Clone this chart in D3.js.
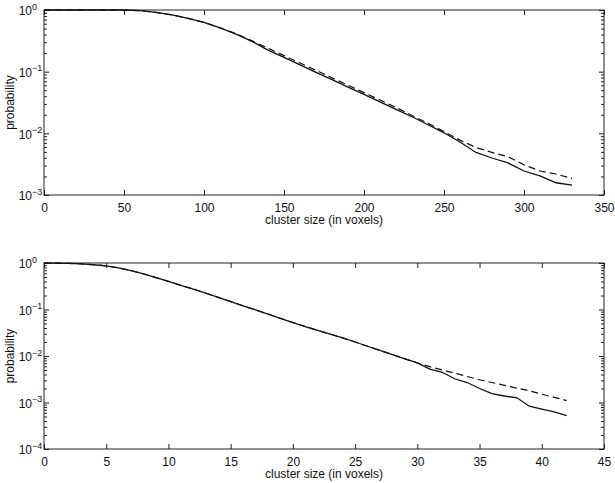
<!DOCTYPE html>
<html>
<head>
<meta charset="utf-8">
<script src="https://cdn.jsdelivr.net/npm/d3@7"></script>
<style>
  body { margin: 0; background: #fff; }
  svg { font-family: "Liberation Sans", Arial, Helvetica, sans-serif; }
  .tick line { stroke: #222; }
  .domain { display: none; }
</style>
</head>
<body>
<div class="chart"></div>
<script>
// top panel: cluster size 0..330 in steps of 10
const topSizes = d3.range(0, 331, 10);
const topSolid = [1, 1, 1, 1, 1, 1, 0.977, 0.912, 0.832, 0.733, 0.631, 0.513,
  0.407, 0.309, 0.224, 0.170, 0.129, 0.0977, 0.0741, 0.0562, 0.0427, 0.0324,
  0.0245, 0.0186, 0.0138, 0.0102, 0.00724, 0.00490, 0.00398, 0.00331, 0.00245,
  0.00204, 0.00158, 0.00145];
const topDashed = [1, 1, 1, 1, 1, 1, 0.977, 0.912, 0.832, 0.733, 0.631, 0.513,
  0.415, 0.316, 0.240, 0.182, 0.138, 0.105, 0.0794, 0.0603, 0.0457, 0.0347,
  0.0263, 0.0195, 0.0145, 0.0107, 0.00776, 0.00589, 0.00490, 0.00417, 0.00309,
  0.00245, 0.00219, 0.00186];
const topXTicks = [0, 50, 100, 150, 200, 250, 300, 350];
const topYExps = [0, -1, -2, -3];

// bottom panel: cluster size 0..42
const botSizes = d3.range(0, 43);
const botSolid = [1, 0.993, 0.977, 0.955, 0.918, 0.867, 0.785, 0.684, 0.582,
  0.484, 0.403, 0.331, 0.275, 0.224, 0.182, 0.148, 0.120, 0.0977, 0.0794,
  0.0646, 0.0525, 0.0427, 0.0355, 0.0295, 0.0245, 0.0200, 0.0162, 0.0132,
  0.0107, 0.00871, 0.00708, 0.00525, 0.00447, 0.00324, 0.00269, 0.00200,
  0.00155, 0.00138, 0.00126, 0.000832, 0.000724, 0.000631, 0.000525];
const botDashed = [1, 0.993, 0.977, 0.955, 0.918, 0.867, 0.785, 0.684, 0.582,
  0.484, 0.403, 0.331, 0.275, 0.224, 0.182, 0.148, 0.120, 0.0977, 0.0794,
  0.0646, 0.0525, 0.0427, 0.0355, 0.0295, 0.0245, 0.0200, 0.0162, 0.0132,
  0.0107, 0.00871, 0.00708, 0.00589, 0.00501, 0.00427, 0.00363, 0.00309,
  0.00269, 0.00234, 0.00204, 0.00178, 0.00151, 0.00129, 0.00110];
const botXTicks = [0, 5, 10, 15, 20, 25, 30, 35, 40, 45];
const botYExps = [0, -1, -2, -3, -4];

const xLabel = 'cluster size (in voxels)';
const yLabel = 'probability';

const svg = d3.select('.chart')
  .append('svg')
  .attr('width', 615)
  .attr('height', 483);

drawPanel({
  top: 10, bottom: 195, left: 44, right: 604,
  sizes: topSizes, solid: topSolid, dashed: topDashed,
  xTicks: topXTicks, yExps: topYExps
});
drawPanel({
  top: 263, bottom: 449, left: 44, right: 604,
  sizes: botSizes, solid: botSolid, dashed: botDashed,
  xTicks: botXTicks, yExps: botYExps
});

function drawPanel(p) {
  const g = svg.append('g');
  const xScale = d3.scaleLinear()
    .domain([p.xTicks[0], p.xTicks[p.xTicks.length - 1]])
    .range([p.left, p.right]);
  const yMin = Math.pow(10, d3.min(p.yExps));
  const yScale = d3.scaleLog()
    .domain([yMin, 1])
    .range([p.bottom, p.top]);

  const majors = p.yExps.map(e => Math.pow(10, e));
  const minors = [];
  p.yExps.slice(0, -1).forEach(e => {
    for (let k = 2; k <= 9; k++) minors.push(k * Math.pow(10, e - 1));
  });

  // x axes, ticks pointing inward
  g.append('g')
    .attr('transform', `translate(0,${p.bottom})`)
    .call(d3.axisBottom(xScale).tickValues(p.xTicks).tickSizeInner(-5).tickSizeOuter(0).tickPadding(8))
    .call(a => a.selectAll('text').attr('font-size', 12).attr('fill', '#111'));
  g.append('g')
    .attr('transform', `translate(0,${p.top})`)
    .call(d3.axisTop(xScale).tickValues(p.xTicks).tickSizeInner(-5).tickSizeOuter(0).tickFormat(''));

  // y axes, majors and minors
  const left = g.append('g')
    .attr('transform', `translate(${p.left},0)`)
    .call(d3.axisLeft(yScale).tickValues(majors).tickSizeInner(-5).tickSizeOuter(0).tickPadding(12).tickFormat(''));
  // "10" ends at a fixed x, the exponent follows it
  left.selectAll('.tick').each(function (d) {
    const t = d3.select(this);
    const e = Math.round(Math.log10(d));
    t.append('text')
      .attr('x', -12).attr('dy', '0.4em')
      .attr('text-anchor', 'end')
      .attr('font-size', 12).attr('fill', '#111')
      .text('10');
    t.append('text')
      .attr('x', -12).attr('dy', '-0.1em')
      .attr('text-anchor', 'start')
      .attr('font-size', 9).attr('fill', '#111')
      .text(e === 0 ? '0' : '\u2212' + Math.abs(e));
  });
  g.append('g')
    .attr('transform', `translate(${p.left},0)`)
    .call(d3.axisLeft(yScale).tickValues(minors).tickSizeInner(-3).tickSizeOuter(0).tickFormat(''));
  g.append('g')
    .attr('transform', `translate(${p.right},0)`)
    .call(d3.axisRight(yScale).tickValues(majors).tickSizeInner(-5).tickSizeOuter(0).tickFormat(''));
  g.append('g')
    .attr('transform', `translate(${p.right},0)`)
    .call(d3.axisRight(yScale).tickValues(minors).tickSizeInner(-3).tickSizeOuter(0).tickFormat(''));

  // frame
  g.append('rect')
    .attr('x', p.left).attr('y', p.top)
    .attr('width', p.right - p.left).attr('height', p.bottom - p.top)
    .attr('fill', 'none').attr('stroke', '#222').attr('stroke-width', 1);

  const line = d3.line()
    .x((d, i) => xScale(p.sizes[i]))
    .y(d => yScale(d));

  g.append('path')
    .datum(p.dashed)
    .attr('d', line)
    .attr('fill', 'none')
    .attr('stroke', '#111')
    .attr('stroke-width', 1.2)
    .attr('stroke-dasharray', '7,4');
  g.append('path')
    .datum(p.solid)
    .attr('d', line)
    .attr('fill', 'none')
    .attr('stroke', '#111')
    .attr('stroke-width', 1.3);

  g.append('text')
    .attr('x', (p.left + p.right) / 2)
    .attr('y', p.bottom + 29)
    .attr('text-anchor', 'middle')
    .attr('font-size', 12)
    .attr('fill', '#111')
    .text(xLabel);

  g.append('text')
    .attr('transform', `translate(14,${(p.top + p.bottom) / 2}) rotate(-90)`)
    .attr('text-anchor', 'middle')
    .attr('font-size', 12)
    .attr('fill', '#111')
    .text(yLabel);
}
</script>
</body>
</html>
